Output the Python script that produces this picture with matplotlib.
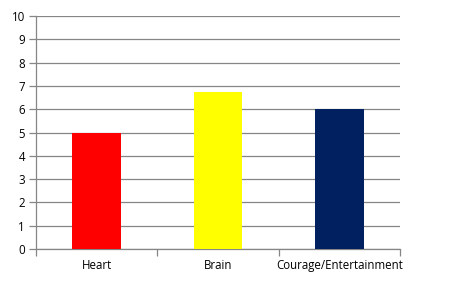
import matplotlib.pyplot as plt
from matplotlib.ticker import FixedLocator

categories = ['Heart', 'Brain', 'Courage/Entertainment']
values = [5, 6.75, 6]
colors = ['#FF0000', '#FFFF00', '#002060']

fig = plt.figure(figsize=(4.62, 2.91), dpi=100)
ax = fig.add_axes([36 / 462, 42 / 291, 364 / 462, 233 / 291])

x = range(len(categories))
ax.bar(x, values, width=0.4, color=colors, zorder=3)

ax.set_xlim(-0.5, 2.5)
ax.set_ylim(0, 10)
ax.set_yticks(range(0, 11))
ax.grid(axis='y', color='#868686', linewidth=0.9, zorder=0)

ax.set_xticks(list(x))
ax.set_xticklabels(categories, fontsize=8.3, family='Open Sans')
ax.tick_params(axis='x', which='major', length=0, pad=7)
ax.xaxis.set_minor_locator(FixedLocator([-0.5, 0.5, 1.5, 2.5]))
ax.tick_params(axis='x', which='minor', length=5, color='#868686', width=0.9)
ax.tick_params(axis='y', length=5, color='#868686', width=0.9, labelsize=8.3, pad=3)
for lbl in ax.get_yticklabels():
    lbl.set_family('Open Sans')

for side in ['top', 'right']:
    ax.spines[side].set_visible(False)
for side in ['left', 'bottom']:
    ax.spines[side].set_color('#868686')
    ax.spines[side].set_linewidth(0.9)

fig.savefig('out.png', dpi=100)
